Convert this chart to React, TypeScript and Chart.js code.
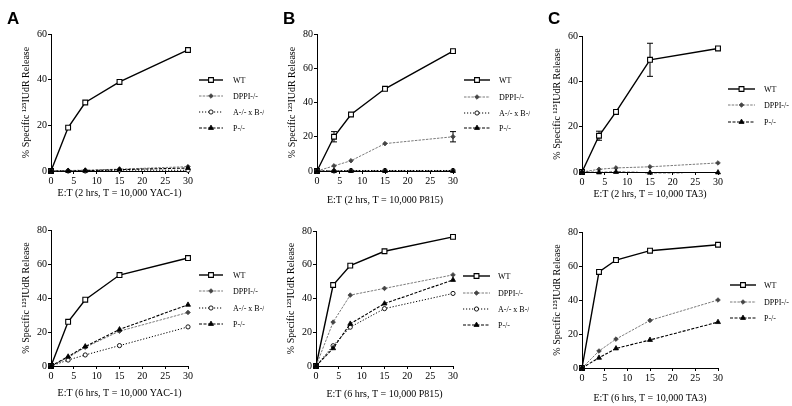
import React, { useEffect, useRef } from 'react';
import { Chart, registerables } from 'chart.js';

Chart.register(...registerables);

// ---------- data ----------
const ET = [0, 3.75, 7.5, 15, 30];
const SERIES_NAMES = ['WT', 'DPPI-/-', 'A-/- x B-/-', 'P-/-'];
const Y_TITLE = '% Specific \u00B9\u00B2\u2075IUdR Release';

// A, 2 hrs, YAC-1
const a2WT = [0, 19, 30, 39, 53];
const a2DPPI = [0, 0.2, 0.4, 0.8, 1.9];
const a2AB = [0, 0, 0, 0.4, 0.3];
const a2P = [0, 0, 0.1, 0.6, 1.3];

// B, 2 hrs, P815
const b2WT = [0, 20, 33, 48, 70];
const b2WTerr = [0, 3, 0, 0, 0];
const b2DPPI = [0, 3, 6, 16, 20];
const b2DPPIerr = [0, 0, 0, 0, 3];
const b2AB = [0, 0, 0.3, 0.3, 0.3];
const b2P = [0, 0, 0, 0, 0];

// C, 2 hrs, TA3
const c2WT = [0, 16, 26.5, 49.5, 54.5];
const c2WTerr = [0, 2, 0, 7.3, 0];
const c2DPPI = [0, 1.2, 1.8, 2.3, 4];
const c2P = [0, -0.2, 0, -0.3, -0.2];

// A, 6 hrs, YAC-1
const a6WT = [0, 26, 39, 53.5, 63.5];
const a6DPPI = [0, 5, 11, 20.5, 31.5];
const a6AB = [0, 3.5, 6.5, 12, 23];
const a6P = [0, 5.5, 11.5, 21.5, 36];

// B, 6 hrs, P815
const b6WT = [0, 48, 59.5, 68, 76.5];
const b6DPPI = [0, 26, 42, 46, 54];
const b6AB = [0, 12, 23, 34, 43];
const b6P = [0, 10.5, 25, 37, 51];

// C, 6 hrs, TA3
const c6WT = [0, 56.5, 63.5, 69, 72.5];
const c6DPPI = [0, 10, 17, 28, 40];
const c6P = [0, 6, 11.5, 16.5, 27];

// ---------- styles ----------
const FONT = "'Liberation Serif', 'Times New Roman', serif";
const STYLES: any[] = [
  { color: '#000', width: 1.4, dash: [], point: 'rect', radius: 3.4, fill: '#fff', pcolor: '#000', pw: 1.1 },
  { color: '#7a7a7a', width: 1, dash: [2.5, 1.2], point: 'rectRot', radius: 2.3, fill: '#444', pcolor: '#444', pw: 0.8 },
  { color: '#000', width: 1, dash: [1.2, 1.8], point: 'circle', radius: 2.1, fill: '#fff', pcolor: '#000', pw: 0.9 },
  { color: '#000', width: 1.1, dash: [3, 1.5], point: 'triangle', radius: 2.9, fill: '#000', pcolor: '#000', pw: 0.8 },
];

type S = { style: number; values: number[]; errors?: number[] };
type P = {
  series: S[];
  yMax: number;
  xTitle: string;
  axisX: number; plotTop: number; plotW: number; plotH: number; xTitleY: number; canvasW: number;
  legLine: [number, number]; legLabelX: number; legRows: number[];
};

const PANELS: P[] = [
  {
    series: [{ style: 0, values: a2WT }, { style: 1, values: a2DPPI }, { style: 2, values: a2AB }, { style: 3, values: a2P }],
    yMax: 60, xTitle: 'E:T (2 hrs, T = 10,000 YAC-1)',
    axisX: 51, plotTop: 34, plotW: 137, plotH: 137, xTitleY: 193, canvasW: 264,
    legLine: [199, 223], legLabelX: 233, legRows: [80, 96, 112, 128],
  },
  {
    series: [{ style: 0, values: b2WT, errors: b2WTerr }, { style: 1, values: b2DPPI, errors: b2DPPIerr }, { style: 2, values: b2AB }, { style: 3, values: b2P }],
    yMax: 80, xTitle: 'E:T (2 hrs, T = 10,000 P815)',
    axisX: 317, plotTop: 34, plotW: 136, plotH: 137, xTitleY: 200, canvasW: 264,
    legLine: [464, 490], legLabelX: 499, legRows: [80, 97, 113, 128],
  },
  {
    series: [{ style: 0, values: c2WT, errors: c2WTerr }, { style: 1, values: c2DPPI }, { style: 3, values: c2P }],
    yMax: 60, xTitle: 'E:T (2 hrs, T = 10,000 TA3)',
    axisX: 582, plotTop: 36, plotW: 136, plotH: 136, xTitleY: 194, canvasW: 261,
    legLine: [728, 755], legLabelX: 764, legRows: [89, 105, 122],
  },
  {
    series: [{ style: 0, values: a6WT }, { style: 1, values: a6DPPI }, { style: 2, values: a6AB }, { style: 3, values: a6P }],
    yMax: 80, xTitle: 'E:T (6 hrs, T = 10,000 YAC-1)',
    axisX: 51, plotTop: 230, plotW: 137, plotH: 136, xTitleY: 393, canvasW: 264,
    legLine: [199, 223], legLabelX: 233, legRows: [275, 291, 308, 324],
  },
  {
    series: [{ style: 0, values: b6WT }, { style: 1, values: b6DPPI }, { style: 2, values: b6AB }, { style: 3, values: b6P }],
    yMax: 80, xTitle: 'E:T (6 hrs, T = 10,000 P815)',
    axisX: 316, plotTop: 231, plotW: 137, plotH: 135, xTitleY: 394, canvasW: 264,
    legLine: [463, 490], legLabelX: 498, legRows: [276, 293, 309, 325],
  },
  {
    series: [{ style: 0, values: c6WT }, { style: 1, values: c6DPPI }, { style: 3, values: c6P }],
    yMax: 80, xTitle: 'E:T (6 hrs, T = 10,000 TA3)',
    axisX: 582, plotTop: 232, plotW: 136, plotH: 136, xTitleY: 398, canvasW: 261,
    legLine: [730, 756], legLabelX: 764, legRows: [285, 302, 318],
  },
];

const LETTERS = [
  { t: 'A', x: 7, y: 10 },
  { t: 'B', x: 283, y: 10 },
  { t: 'C', x: 548, y: 10 },
];

const Y_AXIS_W = 51;
const TOP_PAD = 34;

function drawMarker(ctx: CanvasRenderingContext2D, st: any, x: number, y: number) {
  const r = st.radius;
  ctx.save();
  ctx.setLineDash([]);
  ctx.beginPath();
  if (st.point === 'rect') {
    const s = Math.SQRT1_2 * r;
    ctx.rect(x - s, y - s, 2 * s, 2 * s);
  } else if (st.point === 'circle') {
    ctx.arc(x, y, r, 0, Math.PI * 2);
  } else if (st.point === 'triangle') {
    ctx.moveTo(x, y - r);
    ctx.lineTo(x + 0.866 * r, y + 0.5 * r);
    ctx.lineTo(x - 0.866 * r, y + 0.5 * r);
    ctx.closePath();
  } else {
    ctx.moveTo(x - r, y);
    ctx.lineTo(x, y - r);
    ctx.lineTo(x + r, y);
    ctx.lineTo(x, y + r);
    ctx.closePath();
  }
  ctx.fillStyle = st.fill;
  ctx.fill();
  ctx.lineWidth = st.pw;
  ctx.strokeStyle = st.pcolor;
  ctx.stroke();
  ctx.restore();
}

function Panel({ cfg }: { cfg: P }) {
  const ref = useRef<HTMLCanvasElement>(null);
  const canvasLeft = cfg.axisX - Y_AXIS_W;
  const canvasTop = cfg.plotTop - TOP_PAD;
  const xAxisH = cfg.xTitleY - (cfg.plotTop + cfg.plotH) + 8;
  const H = TOP_PAD + cfg.plotH + xAxisH;
  const W = cfg.canvasW;

  useEffect(() => {
    if (!ref.current) return;
    const errorPlugin = {
      id: 'errbars',
      beforeDatasetsDraw(chart: any) {
        const ctx = chart.ctx;
        const xs = chart.scales.x;
        const ys = chart.scales.y;
        chart.data.datasets.forEach((ds: any) => {
          if (!ds.errorBars) return;
          ds.data.forEach((p: any, i: number) => {
            const e = ds.errorBars[i];
            if (!e) return;
            const x = xs.getPixelForValue(p.x);
            const y1 = ys.getPixelForValue(p.y - e);
            const y2 = ys.getPixelForValue(p.y + e);
            ctx.save();
            ctx.setLineDash([]);
            ctx.strokeStyle = '#000';
            ctx.lineWidth = 1;
            ctx.beginPath();
            ctx.moveTo(x, y1); ctx.lineTo(x, y2);
            ctx.moveTo(x - 3, y1); ctx.lineTo(x + 3, y1);
            ctx.moveTo(x - 3, y2); ctx.lineTo(x + 3, y2);
            ctx.stroke();
            ctx.restore();
          });
        });
      },
    };
    const legendPlugin = {
      id: 'lineLegend',
      afterDraw(chart: any) {
        const ctx = chart.ctx as CanvasRenderingContext2D;
        cfg.series.forEach((s, i) => {
          const st = STYLES[s.style];
          const y = cfg.legRows[i] - canvasTop;
          const x1 = cfg.legLine[0] - canvasLeft;
          const x2 = cfg.legLine[1] - canvasLeft;
          ctx.save();
          ctx.strokeStyle = st.color;
          ctx.lineWidth = st.width;
          ctx.setLineDash(st.dash);
          ctx.beginPath();
          ctx.moveTo(x1, y); ctx.lineTo(x2, y);
          ctx.stroke();
          ctx.restore();
          drawMarker(ctx, st, (x1 + x2) / 2, y);
          ctx.save();
          ctx.fillStyle = '#000';
          ctx.font = `8px ${FONT}`;
          ctx.textBaseline = 'middle';
          ctx.textAlign = 'left';
          ctx.fillText(SERIES_NAMES[s.style], cfg.legLabelX - canvasLeft, y + 0.5);
          ctx.restore();
        });
      },
    };

    const datasets = cfg.series.map((s) => {
      const st = STYLES[s.style];
      return {
        label: SERIES_NAMES[s.style],
        data: ET.map((x, i) => ({ x, y: s.values[i] })),
        errorBars: s.errors,
        borderColor: st.color,
        borderWidth: st.width,
        borderDash: st.dash,
        pointStyle: st.point,
        pointRadius: st.radius,
        pointBackgroundColor: st.fill,
        pointBorderColor: st.pcolor,
        pointBorderWidth: st.pw,
        tension: 0,
        clip: false as any,
        fill: false,
      };
    }).reverse();

    const tickFont = { family: FONT, size: 10 };
    const chart = new Chart(ref.current, {
      type: 'line',
      data: { datasets: datasets as any },
      plugins: [errorPlugin, legendPlugin],
      options: {
        responsive: false,
        animation: false,
        events: [],
        layout: { padding: { left: 0, top: TOP_PAD, right: W - Y_AXIS_W - cfg.plotW, bottom: 0 } },
        plugins: { legend: { display: false }, tooltip: { enabled: false } },
        scales: {
          x: {
            type: 'linear',
            min: 0,
            max: 30,
            ticks: { stepSize: 5, font: tickFont, color: '#000', padding: 1, maxRotation: 0, autoSkip: false },
            grid: { drawOnChartArea: false, drawTicks: true, tickLength: 3, color: '#000', lineWidth: 1 },
            border: { display: true, color: '#000', width: 1 },
            title: { display: true, text: cfg.xTitle, font: { family: FONT, size: 10 }, color: '#000', padding: { top: 0, bottom: 2 } },
            afterFit: (s: any) => { s.height = xAxisH; },
          },
          y: {
            type: 'linear',
            min: 0,
            max: cfg.yMax,
            ticks: { stepSize: 20, font: tickFont, color: '#000', padding: 1 },
            grid: { drawOnChartArea: false, drawTicks: true, tickLength: 3, color: '#000', lineWidth: 1 },
            border: { display: true, color: '#000', width: 1 },
            title: { display: true, text: Y_TITLE, font: { family: FONT, size: 10 }, color: '#000', padding: { top: 20, bottom: 0 } },
            afterFit: (s: any) => { s.width = Y_AXIS_W; },
          },
        },
      } as any,
    });
    return () => chart.destroy();
  }, []);

  return (
    <canvas
      ref={ref}
      width={W}
      height={H}
      style={{ position: 'absolute', left: canvasLeft, top: canvasTop, width: W, height: H }}
    />
  );
}

export default function App() {
  return (
    <div style={{ position: 'absolute', left: 0, top: 0, width: 792, height: 406, background: '#fff', overflow: 'hidden' }}>
      {PANELS.map((p, i) => <Panel key={i} cfg={p} />)}
      {LETTERS.map((l) => (
        <div
          key={l.t}
          style={{
            position: 'absolute', left: l.x, top: l.y, fontFamily: "'Liberation Sans', Arial, sans-serif",
            fontWeight: 'bold', fontSize: 17, lineHeight: 1, color: '#000',
          }}
        >
          {l.t}
        </div>
      ))}
    </div>
  );
}
